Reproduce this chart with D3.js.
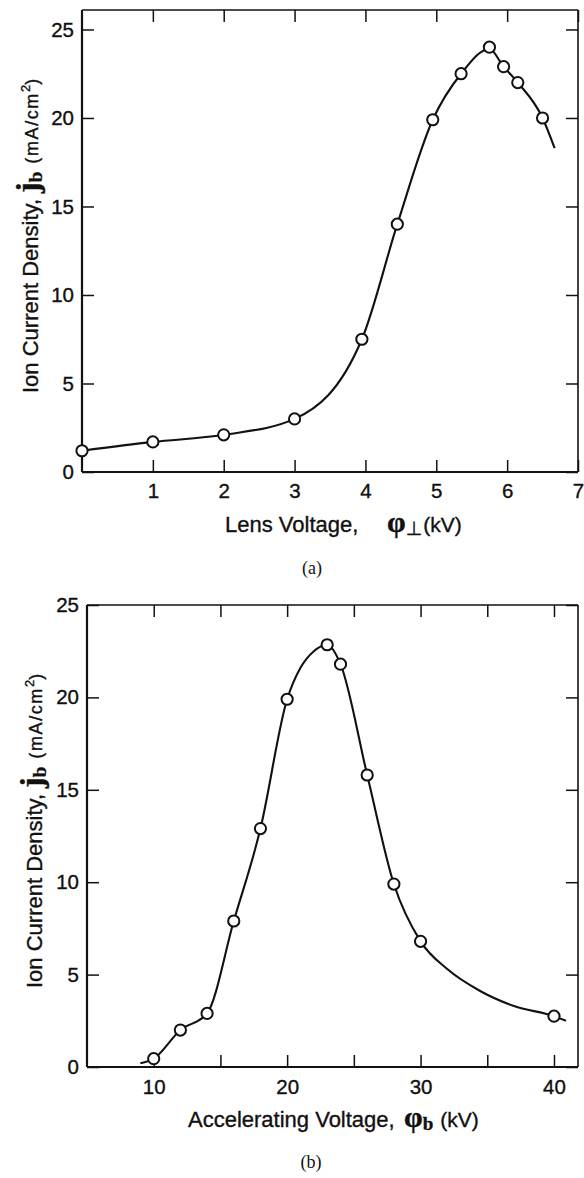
<!DOCTYPE html>
<html>
<head>
<meta charset="utf-8">
<script src="https://cdn.jsdelivr.net/npm/d3@7"></script>
<style>
  body { margin: 0; background: #fff; }
  svg { display: block; }
</style>
</head>
<body>
<div id="chart"></div>
<script>
//--------------------------------------------------
// Datos
//--------------------------------------------------
// (a) lens voltage (kV) vs ion current density (mA/cm2)
const lensV = [0, 1, 2, 3, 3.95, 4.45, 4.95, 5.35, 5.75, 5.95, 6.15, 6.5];
const lensJ = [1.2, 1.7, 2.1, 3.0, 7.5, 14.0, 19.9, 22.5, 24.0, 22.9, 22.0, 20.0];
// trazo dibujado a mano que pasa por los puntos
const lensCurveV = [0, 1, 2, 3, 3.95, 4.45, 4.95, 5.35, 5.75, 5.95, 6.15, 6.5, 6.67];
const lensCurveJ = [1.2, 1.7, 2.1, 3.0, 7.5, 14.0, 19.9, 22.5, 23.9, 22.9, 22.0, 20.0, 18.3];

// (b) accelerating voltage (kV) vs ion current density
const accV = [10, 12, 14, 16, 18, 20, 23, 24, 26, 28, 30, 40];
const accJ = [0.45, 2.0, 2.9, 7.9, 12.9, 19.9, 22.85, 21.8, 15.8, 9.9, 6.8, 2.75];
const accCurveV = [9.0, 10, 12, 14, 16, 18, 20, 21, 22, 23, 24, 26, 28, 30, 32, 34.5, 37, 40, 40.9];
const accCurveJ = [0.2, 0.45, 2.0, 2.9, 7.9, 12.9, 19.9, 21.6, 22.5, 22.85, 21.8, 15.8, 9.9, 6.8, 5.3, 4.1, 3.3, 2.75, 2.5];

// ticks
const lensXTicks  = [1, 2, 3, 4, 5, 6, 7];
const lensXLabels = [1, 2, 3, 4, 5, 6, 7];
const lensYTicks  = [0, 5, 10, 15, 20, 25];
const accXTicks   = [10, 15, 20, 25, 30, 35, 40];
const accXLabels  = [10, 20, 30, 40];
const accYTicks   = [0, 5, 10, 15, 20, 25];

//--------------------------------------------------
// Estilo
//--------------------------------------------------
const SANS  = "'Liberation Sans', Arial, Helvetica, sans-serif";
const SERIF = "'Liberation Serif', 'Times New Roman', serif";
const INK   = "#111";
const HEAVY = 0.35; // trazo extra en los textos (escaneo)

const W = 584, H = 1178;
const svg = d3.select("#chart").append("svg")
  .attr("width", W)
  .attr("height", H)
  .style("background", "#fff");

//--------------------------------------------------
// Un panel
//--------------------------------------------------
function panel(c) {
  const g = svg.append("g");

  const x = d3.scaleLinear().domain(c.xDomain).range(c.xRange);
  const y = d3.scaleLinear().domain(c.yDomain).range(c.yRange);
  const [x0, x1] = c.xRange;
  const [y0, y1] = c.yRange;

  const styleAxis = sel => {
    sel.select(".domain").remove();
    sel.selectAll(".tick line").attr("stroke", INK).attr("stroke-width", 1.5);
    sel.selectAll(".tick text")
      .attr("fill", INK)
      .attr("stroke", INK)
      .attr("stroke-width", HEAVY)
      .style("font-family", SANS)
      .style("font-size", "20.5px");
  };

  g.append("g")
    .attr("transform", `translate(0,${y0})`)
    .call(d3.axisBottom(x).tickValues(c.xTicks).tickSize(-12).tickSizeOuter(0)
      .tickPadding(c.xPad)
      .tickFormat(d => c.xLabels.includes(d) ? d : ""))
    .call(styleAxis);

  g.append("g")
    .attr("transform", `translate(0,${y1})`)
    .call(d3.axisTop(x).tickValues(c.xTicks).tickSize(-12).tickSizeOuter(0).tickFormat(""))
    .call(styleAxis);

  g.append("g")
    .attr("transform", `translate(${x0},0)`)
    .call(d3.axisLeft(y).tickValues(c.yTicks).tickSize(-12).tickSizeOuter(0).tickPadding(c.yPad))
    .call(styleAxis);

  g.append("g")
    .attr("transform", `translate(${x1},0)`)
    .call(d3.axisRight(y).tickValues(c.yTicks).tickSize(-12).tickSizeOuter(0).tickFormat(""))
    .call(styleAxis);

  // marco
  const frame = g.append("g").attr("stroke", INK).attr("fill", "none");
  frame.append("line").attr("x1", x0).attr("x2", x0).attr("y1", y1).attr("y2", y0).attr("stroke-width", 2.2);
  frame.append("line").attr("x1", x0).attr("x2", x1).attr("y1", y0).attr("y2", y0).attr("stroke-width", 2.2);
  frame.append("line").attr("x1", x0).attr("x2", x1).attr("y1", y1).attr("y2", y1).attr("stroke-width", 1.6);
  frame.append("line").attr("x1", x1).attr("x2", x1).attr("y1", y1).attr("y2", y0).attr("stroke-width", 1.6);

  // curva
  const line = d3.line()
    .x(d => x(d[0]))
    .y(d => y(d[1]))
    .curve(d3.curveMonotoneX);

  g.append("path")
    .datum(d3.zip(c.curveX, c.curveY))
    .attr("d", line)
    .attr("fill", "none")
    .attr("stroke", INK)
    .attr("stroke-width", 2.1);

  // puntos
  g.append("g")
    .selectAll("circle")
    .data(d3.zip(c.ptX, c.ptY))
    .join("circle")
    .attr("cx", d => x(d[0]))
    .attr("cy", d => y(d[1]))
    .attr("r", 5.6)
    .attr("fill", "#fff")
    .attr("stroke", INK)
    .attr("stroke-width", 2);

  // etiqueta eje y (rotada)
  const yl = g.append("text")
    .attr("transform", `translate(${c.yLab[0]},${c.yLab[1]}) rotate(-90)`)
    .attr("fill", INK)
    .attr("stroke", INK)
    .attr("stroke-width", HEAVY)
    .style("font-family", SANS);
  yl.append("tspan").style("font-size", "22px").text("Ion Current Density, ");
  yl.append("tspan").style("font-family", SERIF).style("font-weight", "bold")
    .style("font-size", "32px").text("j");
  yl.append("tspan").style("font-family", SERIF).style("font-weight", "bold")
    .style("font-size", "19px").attr("dy", 4).text("b");
  yl.append("tspan").style("font-size", "18px").style("letter-spacing", "1.6px")
    .attr("dy", -4).attr("dx", 8).text("(mA/cm");
  yl.append("tspan").style("font-size", "13px").attr("dy", -8).text("2");
  yl.append("tspan").style("font-size", "18px").attr("dy", 8).text(")");

  // etiqueta eje x
  const xl = g.append("text")
    .attr("x", c.xLab[0])
    .attr("y", c.xLab[1])
    .attr("fill", INK)
    .attr("stroke", INK)
    .attr("stroke-width", HEAVY)
    .style("font-family", SANS);
  xl.append("tspan").style("font-size", "22px").text(c.xText);
  xl.append("tspan").attr("x", c.phiX)
    .style("font-family", SERIF).style("font-weight", "bold")
    .style("font-size", "30px").text("φ");
  xl.append("tspan").attr("dy", 3)
    .style("font-family", c.subFont).style("font-weight", c.subWeight)
    .style("font-size", c.subSize).text(c.sub);
  xl.append("tspan").attr("dy", -3).attr("dx", c.kvDx)
    .style("font-size", "21px").text("(kV)");

  // (a) / (b)
  g.append("text")
    .attr("x", c.tag[0])
    .attr("y", c.tag[1])
    .attr("text-anchor", "middle")
    .attr("fill", INK)
    .style("font-family", SERIF)
    .style("font-size", "18px")
    .text(c.tagText);
}

panel({
  xDomain: [0, 7], xRange: [82, 578],
  yDomain: [0, 26.1], yRange: [472, 10],
  xTicks: lensXTicks, xLabels: lensXLabels, yTicks: lensYTicks,
  xPad: 11, yPad: 8,
  ptX: lensV, ptY: lensJ,
  curveX: lensCurveV, curveY: lensCurveJ,
  yLab: [38, 393],
  xLab: [225, 532], xText: "Lens Voltage,", phiX: 387,
  sub: "⊥", subFont: "'DejaVu Sans', sans-serif", subWeight: "normal", subSize: "19px", kvDx: 1,
  tag: [312, 574], tagText: "(a)"
});

panel({
  xDomain: [5, 41.8], xRange: [87, 578],
  yDomain: [0, 25], yRange: [1067, 605],
  xTicks: accXTicks, xLabels: accXLabels, yTicks: accYTicks,
  xPad: 12, yPad: 8,
  ptX: accV, ptY: accJ,
  curveX: accCurveV, curveY: accCurveJ,
  yLab: [42, 988],
  xLab: [188, 1127], xText: "Accelerating Voltage,", phiX: 404,
  sub: "b", subFont: SERIF, subWeight: "bold", subSize: "19px", kvDx: 7,
  tag: [311, 1168], tagText: "(b)"
});
</script>
</body>
</html>
